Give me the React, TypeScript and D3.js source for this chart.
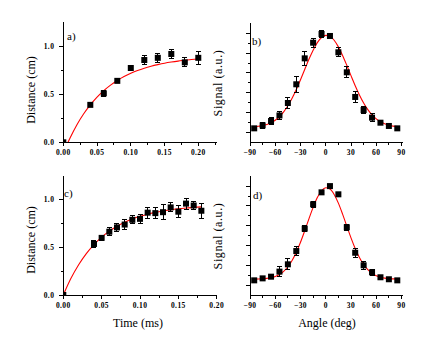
import React from "react";
import * as d3 from "d3";

// ---------- data ----------
const distTicks = [0, 0.5, 1.0];
const distMinor = [0.25, 0.75];
const timeTicksA = [0, 0.05, 0.1, 0.15, 0.2];
const timeMinorA = [0.025, 0.075, 0.125, 0.175, 0.225];
const timeTicksC = [0, 0.05, 0.1, 0.15, 0.2];
const timeMinorC = [0.025, 0.075, 0.125, 0.175];
const angleTicks = [-90, -60, -30, 0, 30, 60, 90];
const angleMinor = [-75, -45, -15, 15, 45, 75];
const signalMajor = [1, 3, 5, 7, 9, 11];
const signalMinor = [2, 4, 6, 8, 10];

const aTime = [0, 0.04, 0.06, 0.08, 0.1, 0.12, 0.14, 0.16, 0.18, 0.2];
const aDist = [0, 0.39, 0.51, 0.64, 0.774, 0.857, 0.88, 0.92, 0.833, 0.88];
const aErr = [0, 0.01, 0.03, 0.02, 0.025, 0.043, 0.048, 0.048, 0.048, 0.07];
const aFitT = [0.007, 0.01, 0.02, 0.03, 0.04, 0.05, 0.06, 0.07, 0.08, 0.09, 0.1, 0.11, 0.12, 0.13, 0.14, 0.15, 0.16, 0.17, 0.18, 0.19, 0.2];
const aFitD = [0, 0.045, 0.181, 0.295, 0.39, 0.471, 0.539, 0.596, 0.644, 0.685, 0.719, 0.748, 0.772, 0.792, 0.809, 0.824, 0.836, 0.846, 0.854, 0.862, 0.868];

const cTime = [0, 0.04, 0.05, 0.06, 0.07, 0.08, 0.09, 0.1, 0.11, 0.12, 0.13, 0.14, 0.15, 0.16, 0.17, 0.18];
const cDist = [0, 0.536, 0.6, 0.665, 0.71, 0.74, 0.79, 0.8, 0.865, 0.86, 0.87, 0.92, 0.875, 0.96, 0.94, 0.885];
const cErr = [0, 0.04, 0.03, 0.042, 0.042, 0.05, 0.044, 0.044, 0.058, 0.058, 0.077, 0.047, 0.06, 0.058, 0.04, 0.077];
const cFitT = [0, 0.01, 0.02, 0.03, 0.04, 0.05, 0.06, 0.07, 0.08, 0.09, 0.1, 0.11, 0.12, 0.13, 0.14, 0.15, 0.16, 0.17, 0.18];
const cFitD = [0, 0.175, 0.318, 0.435, 0.53, 0.608, 0.671, 0.722, 0.764, 0.799, 0.827, 0.849, 0.868, 0.883, 0.895, 0.906, 0.914, 0.92, 0.926];

const angles = [-85, -75, -65, -55, -45, -35, -25, -15, -5, 5, 15, 25, 35, 45, 55, 65, 75, 85];
const bSig = [1.4, 1.7, 2.14, 2.7, 3.96, 5.85, 8.47, 10.05, 10.93, 10.73, 9.08, 7.06, 4.57, 3.25, 2.48, 1.97, 1.64, 1.4];
const bErr = [0.05, 0.3, 0.33, 0.4, 0.6, 0.78, 0.74, 0.45, 0.37, 0.17, 0.47, 0.55, 0.55, 0.4, 0.37, 0.2, 0.15, 0.1];
const dSig = [1.48, 1.68, 1.85, 2.36, 3.1, 4.44, 6.7, 9.16, 10.37, 11.0, 10.17, 6.84, 4.27, 3.0, 2.29, 1.79, 1.59, 1.48];
const dErr = [0, 0.1, 0.1, 0.47, 0.54, 0.5, 0.27, 0.33, 0.1, 0, 0, 0.33, 0.45, 0.4, 0.3, 0.15, 0.1, 0];

const fitAngles = [-85, -80, -75, -70, -65, -60, -55, -50, -45, -40, -35, -30, -25, -20, -15, -10, -5, 0, 5, 10, 15, 20, 25, 30, 35, 40, 45, 50, 55, 60, 65, 70, 75, 80, 85];
const bFit = [1.558, 1.603, 1.677, 1.793, 1.969, 2.224, 2.583, 3.062, 3.679, 4.436, 5.323, 6.311, 7.35, 8.373, 9.3, 10.06, 10.573, 10.794, 10.7, 10.3, 9.63, 8.76, 7.765, 6.724, 5.709, 4.776, 3.965, 3.292, 2.758, 2.354, 2.06, 1.855, 1.718, 1.628, 1.573];
const dFit = [1.608, 1.619, 1.639, 1.679, 1.751, 1.874, 2.077, 2.391, 2.85, 3.487, 4.315, 5.326, 6.477, 7.691, 8.853, 9.841, 10.531, 10.831, 10.701, 10.159, 9.278, 8.169, 6.961, 5.773, 4.698, 3.795, 3.082, 2.555, 2.187, 1.944, 1.792, 1.703, 1.652, 1.625, 1.612];

const FONT = "'Liberation Serif', 'Times New Roman', serif";

type PanelProps = {
  id: string;
  label: string;
  labelPos: [number, number];
  x: d3.ScaleLinear<number, number>;
  y: d3.ScaleLinear<number, number>;
  xTicks: number[];
  xMinor: number[];
  xFmt: (v: number) => string;
  yTicks: number[];
  yMinor: number[];
  yLabels: boolean;
  px: number[];
  py: number[];
  pe: number[];
  fx: number[];
  fy: number[];
  axisEnd: number;
};

function Panel(p: PanelProps) {
  const [x0] = p.x.range();
  const [yb, yt] = p.y.range();
  const line = d3
    .line<number>()
    .x((_, i) => p.x(p.fx[i]))
    .y((v) => p.y(v))
    .curve(d3.curveMonotoneX);
  const ms = 6;
  return (
    <g>
      <defs>
        <clipPath id={"clip" + p.id}>
          <rect x={x0} y={yt - 10} width={p.axisEnd - x0 + 10} height={yb - yt + 10} />
        </clipPath>
      </defs>
      <path d={line(p.fy) || ""} fill="none" stroke="#ff0000" strokeWidth={1.1} />
      <g clipPath={`url(#clip${p.id})`}>
        {p.px.map((xv, i) => {
          const cx = p.x(xv);
          const cy = p.y(p.py[i]);
          const e = p.pe[i];
          const top = p.y(p.py[i] + e);
          const bot = p.y(p.py[i] - e);
          return (
            <g key={i}>
              {e > 0 && (
                <g stroke="#000" strokeWidth={1} shapeRendering="crispEdges">
                  <line x1={cx} x2={cx} y1={top} y2={bot} />
                  <line x1={cx - 2.5} x2={cx + 2.5} y1={top} y2={top} />
                  <line x1={cx - 2.5} x2={cx + 2.5} y1={bot} y2={bot} />
                </g>
              )}
              <rect x={cx - ms / 2} y={cy - ms / 2} width={ms} height={ms} fill="#000" />
            </g>
          );
        })}
      </g>
      <g stroke="#000" strokeWidth={1} shapeRendering="crispEdges">
        <line x1={x0} x2={x0} y1={yt} y2={yb} />
        <line x1={x0} x2={p.axisEnd} y1={yb} y2={yb} />
        {p.xTicks.map((t) => (
          <line key={"xt" + t} x1={p.x(t)} x2={p.x(t)} y1={yb} y2={yb + 4} />
        ))}
        {p.xMinor.map((t) => (
          <line key={"xm" + t} x1={p.x(t)} x2={p.x(t)} y1={yb} y2={yb + 3} />
        ))}
        {p.yTicks.map((t) => (
          <line key={"yt" + t} x1={x0 - 4} x2={x0} y1={p.y(t)} y2={p.y(t)} />
        ))}
        {p.yMinor.map((t) => (
          <line key={"ym" + t} x1={x0 - 2} x2={x0} y1={p.y(t)} y2={p.y(t)} />
        ))}
      </g>
      <g fontFamily={FONT} fontSize={7.5} fontWeight="bold" fill="#000" letterSpacing={0.4}>
        {p.xTicks.map((t) => (
          <text key={"xl" + t} x={p.x(t)} y={yb + 12.5} textAnchor="middle">
            {p.xFmt(t)}
          </text>
        ))}
        {p.yLabels &&
          p.yTicks.map((t) => (
            <text key={"yl" + t} x={x0 - 9} y={p.y(t) + 2.5} textAnchor="end">
              {d3.format(".1f")(t)}
            </text>
          ))}
      </g>
      <text x={p.labelPos[0]} y={p.labelPos[1]} fontFamily={FONT} fontSize={11} fill="#000">
        {p.label}
      </text>
    </g>
  );
}

export default function App() {
  const W = 433;
  const H = 359;
  const xa = d3.scaleLinear().domain([0, 0.2]).range([63.3, 198.3]);
  const ya = d3.scaleLinear().domain([0, 1.25]).range([142.3, 22.3]);
  const xc = d3.scaleLinear().domain([0, 0.2]).range([63.3, 216.7]);
  const yc = d3.scaleLinear().domain([0, 1.25]).range([295, 176]);
  const xb = d3.scaleLinear().domain([-90, 90]).range([250, 401.5]);
  const yb = d3.scaleLinear().domain([0, 12]).range([142.2, 23.4]);
  const yd = d3.scaleLinear().domain([0, 12]).range([295, 176.2]);
  const f2 = d3.format(".2f");
  const f0 = d3.format("d");

  return (
    <svg
      width={W}
      height={H}
      viewBox={`0 0 ${W} ${H}`}
      style={{ position: "absolute", left: 0, top: 0, background: "#fff" }}
    >
      <rect width={W} height={H} fill="#fff" />
      <Panel
        id="a" label="a)" labelPos={[67, 40]} x={xa} y={ya}
        xTicks={timeTicksA} xMinor={timeMinorA} xFmt={f2}
        yTicks={distTicks} yMinor={distMinor} yLabels
        px={aTime} py={aDist} pe={aErr} fx={aFitT} fy={aFitD} axisEnd={xa(0.2275)}
      />
      <Panel
        id="b" label="b)" labelPos={[252, 45]} x={xb} y={yb}
        xTicks={angleTicks} xMinor={angleMinor} xFmt={f0}
        yTicks={signalMajor} yMinor={signalMinor} yLabels={false}
        px={angles} py={bSig} pe={bErr} fx={fitAngles} fy={bFit} axisEnd={402.5}
      />
      <Panel
        id="c" label="c)" labelPos={[64, 197]} x={xc} y={yc}
        xTicks={timeTicksC} xMinor={timeMinorC} xFmt={f2}
        yTicks={distTicks} yMinor={distMinor} yLabels
        px={cTime} py={cDist} pe={cErr} fx={cFitT} fy={cFitD} axisEnd={216.7}
      />
      <Panel
        id="d" label="d)" labelPos={[253, 199]} x={xb} y={yd}
        xTicks={angleTicks} xMinor={angleMinor} xFmt={f0}
        yTicks={signalMajor} yMinor={signalMinor} yLabels={false}
        px={angles} py={dSig} pe={dErr} fx={fitAngles} fy={dFit} axisEnd={402.5}
      />
      <g fontFamily={FONT} fontSize={12} fill="#000">
        <text transform="translate(35,90) rotate(-90)" textAnchor="middle">Distance (cm)</text>
        <text transform="translate(35,240) rotate(-90)" textAnchor="middle">Distance (cm)</text>
        <text transform="translate(222,83) rotate(-90)" textAnchor="middle" letterSpacing={0.6}>Signal (a.u.)</text>
        <text transform="translate(222,236) rotate(-90)" textAnchor="middle" letterSpacing={0.6}>Signal (a.u.)</text>
        <text x={138} y={327} textAnchor="middle">Time (ms)</text>
        <text x={327} y={327} textAnchor="middle">Angle (deg)</text>
      </g>
    </svg>
  );
}
